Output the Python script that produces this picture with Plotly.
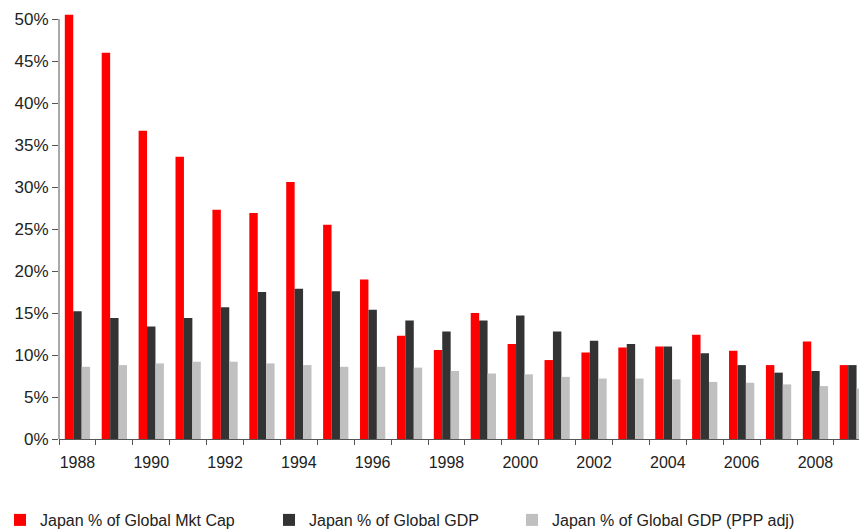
import plotly.graph_objects as go

years = list(range(1988, 2010))
mkt_cap = [50.5, 46.0, 36.7, 33.6, 27.3, 26.9, 30.6, 25.5, 19.0, 12.3, 10.6,
           15.0, 11.3, 9.4, 10.3, 10.9, 11.0, 12.4, 10.5, 8.8, 11.6, 8.8]
gdp = [15.2, 14.4, 13.4, 14.4, 15.7, 17.5, 17.9, 17.6, 15.4, 14.1, 12.8,
       14.1, 14.7, 12.8, 11.7, 11.3, 11.0, 10.2, 8.8, 7.9, 8.1, 8.8]
gdp_ppp = [8.6, 8.8, 9.0, 9.2, 9.2, 9.0, 8.8, 8.6, 8.6, 8.5, 8.1,
           7.8, 7.7, 7.4, 7.2, 7.2, 7.1, 6.8, 6.7, 6.5, 6.3, 6.0]
names = ["Japan % of Global Mkt Cap", "Japan % of Global GDP", "Japan % of Global GDP (PPP adj)"]
colors = ["#FF0000", "#333333", "#C0C0C0"]
label_years = [y for y in years if y % 2 == 0]
y_ticks = list(range(0, 55, 5))

FONT = "Liberation Sans, Arial, Helvetica, sans-serif"

fig = go.Figure()
for i, (vals, nm, col) in enumerate(zip([mkt_cap, gdp, gdp_ppp], names, colors)):
    fig.add_trace(go.Bar(x=years, y=vals, name=nm, marker=dict(color=col, line=dict(width=0)),
                         legend="legend" if i == 0 else f"legend{i+1}"))

legend_common = dict(orientation="h", xref="container", yref="container",
                     yanchor="middle", xanchor="left", y=(529 - 520) / 529,
                     font=dict(family=FONT, size=16, color="#222"),
                     bgcolor="rgba(0,0,0,0)", borderwidth=0)

fig.update_layout(
    width=859, height=529,
    margin=dict(l=59, r=0, t=14, b=90),
    plot_bgcolor="white", paper_bgcolor="white",
    barmode="group", bargap=0.315, bargroupgap=0,
    font=dict(family=FONT, size=16, color="#222"),
    showlegend=True,
    legend=dict(legend_common, x=0 / 859),
    legend2=dict(legend_common, x=269 / 859),
    legend3=dict(legend_common, x=512 / 859),
    xaxis=dict(range=[1987.5, 2009.18], showgrid=False, zeroline=False,
               showline=True, linecolor="#555", linewidth=1,
               tickmode="array", tickvals=label_years, ticktext=[str(y) for y in label_years],
               ticks="outside", ticklen=9, tickcolor="rgba(0,0,0,0)",
               minor=dict(tickmode="array", tickvals=[y - 0.5 for y in years],
                          ticks="outside", ticklen=5, tickcolor="#555", showgrid=False),
               tickfont=dict(family=FONT, size=16, color="#222")),
    yaxis=dict(range=[0, 50.6], showgrid=False, zeroline=False, showline=False,
               tickmode="array", tickvals=y_ticks, ticktext=[f"{v}%" for v in y_ticks],
               ticks="outside", ticklen=6, tickcolor="#555",
               tickfont=dict(family=FONT, size=17, color="#222")),
)
fig.add_shape(type="line", xref="paper", yref="y", x0=0, x1=0, y0=0, y1=50,
              line=dict(color="#555", width=1))

fig.write_html("out.html")
